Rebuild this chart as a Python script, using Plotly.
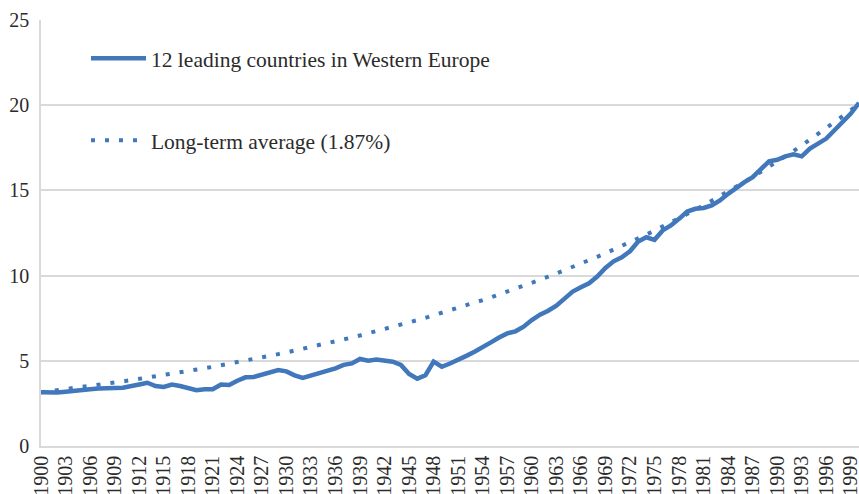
import plotly.graph_objects as go

years = list(range(1900, 2001))

leading_12 = [
    3.16, 3.13, 3.14, 3.18, 3.21, 3.27, 3.33, 3.38, 3.36, 3.40,
    3.42, 3.49, 3.61, 3.71, 3.52, 3.47, 3.61, 3.52, 3.38, 3.27,
    3.33, 3.33, 3.61, 3.58, 3.83, 4.03, 4.05, 4.18, 4.36, 4.46,
    4.38, 4.15, 4.00, 4.13, 4.27, 4.40, 4.56, 4.76, 4.85, 5.11,
    5.01, 5.07, 4.99, 4.95, 4.76, 4.23, 3.95, 4.15, 4.95, 4.65,
    4.84, 5.10, 5.29, 5.53, 5.78, 6.08, 6.37, 6.61, 6.73, 7.00,
    7.39, 7.71, 7.94, 8.24, 8.65, 9.06, 9.31, 9.55, 9.94, 10.45,
    10.84, 11.08, 11.43, 12.00, 12.25, 12.10, 12.65, 12.94, 13.33, 13.76,
    13.92, 13.97, 14.12, 14.41, 14.80, 15.16, 15.49, 15.78, 16.27, 16.71,
    16.80, 17.00, 17.12, 17.00, 17.45, 17.78, 18.04, 18.53, 19.02, 19.51,
    20.14,
]

long_term_avg = [
    3.150, 3.209, 3.269, 3.330, 3.392, 3.456, 3.520, 3.586, 3.653, 3.721,
    3.791, 3.862, 3.934, 4.007, 4.082, 4.159, 4.236, 4.316, 4.396, 4.478,
    4.562, 4.648, 4.735, 4.823, 4.913, 5.005, 5.099, 5.194, 5.291, 5.390,
    5.491, 5.594, 5.698, 5.805, 5.913, 6.024, 6.136, 6.251, 6.368, 6.487,
    6.608, 6.732, 6.858, 6.986, 7.117, 7.250, 7.385, 7.523, 7.664, 7.807,
    7.953, 8.102, 8.253, 8.408, 8.565, 8.725, 8.888, 9.054, 9.224, 9.396,
    9.572, 9.751, 9.933, 10.119, 10.308, 10.501, 10.697, 10.897, 11.101, 11.309,
    11.520, 11.735, 11.955, 12.178, 12.406, 12.638, 12.874, 13.115, 13.360, 13.610,
    13.864, 14.124, 14.388, 14.657, 14.931, 15.210, 15.494, 15.784, 16.079, 16.380,
    16.686, 16.998, 17.316, 17.640, 17.970, 18.306, 18.648, 18.997, 19.352, 19.714,
    20.082,
]

x_tick_years = list(range(1900, 2000, 3))
x_tick_labels = [str(y) for y in x_tick_years]
y_ticks = [0, 5, 10, 15, 20, 25]

series_names = ["12 leading countries in Western Europe", "Long-term average (1.87%)"]

BLUE = "#4177BB"
GRID = "#d9d9d9"
FONT = "Liberation Serif"
TXT = "#2b2b2b"

fig = go.Figure()
fig.add_trace(go.Scatter(
    x=years, y=leading_12, mode="lines", name=series_names[0],
    line=dict(color=BLUE, width=4.5), legendgroup="a",
))
fig.add_trace(go.Scatter(
    x=years, y=long_term_avg, mode="lines", name=series_names[1],
    line=dict(color=BLUE, width=4, dash="4px,10px"), legendgroup="b",
))

fig.update_layout(
    width=859, height=494,
    margin=dict(l=41, r=0, t=20, b=48),
    paper_bgcolor="white", plot_bgcolor="white",
    font=dict(family=FONT, size=21, color=TXT),
    showlegend=True,
    legend=dict(
        x=0.055, y=0.958, xanchor="left", yanchor="top",
        bgcolor="rgba(0,0,0,0)", tracegroupgap=51, traceorder="grouped",
        itemwidth=55, font=dict(family=FONT, size=21.5, color=TXT),
    ),
    xaxis=dict(
        range=[1900, 2000], tickmode="array", tickvals=x_tick_years, ticktext=x_tick_labels,
        tickangle=-90, showgrid=False, showline=True, linecolor=GRID, linewidth=1.5,
        ticks="", tickfont=dict(family=FONT, size=20, color=TXT),
        zeroline=False, automargin=False, ticklabeloverflow="allow",
    ),
    yaxis=dict(
        range=[0, 25], tickvals=y_ticks, showgrid=True, gridcolor=GRID, gridwidth=1.5,
        showline=True, linecolor=GRID, linewidth=1.5, ticks="",
        tickfont=dict(family=FONT, size=20, color=TXT),
        zeroline=False, automargin=False, ticklabelstandoff=6, ticklabeloverflow="allow",
    ),
)

fig.write_html(
    "out.html",
    config={"displayModeBar": False},
    post_script="document.body.style.margin='0';document.body.style.overflow='hidden';",
)
